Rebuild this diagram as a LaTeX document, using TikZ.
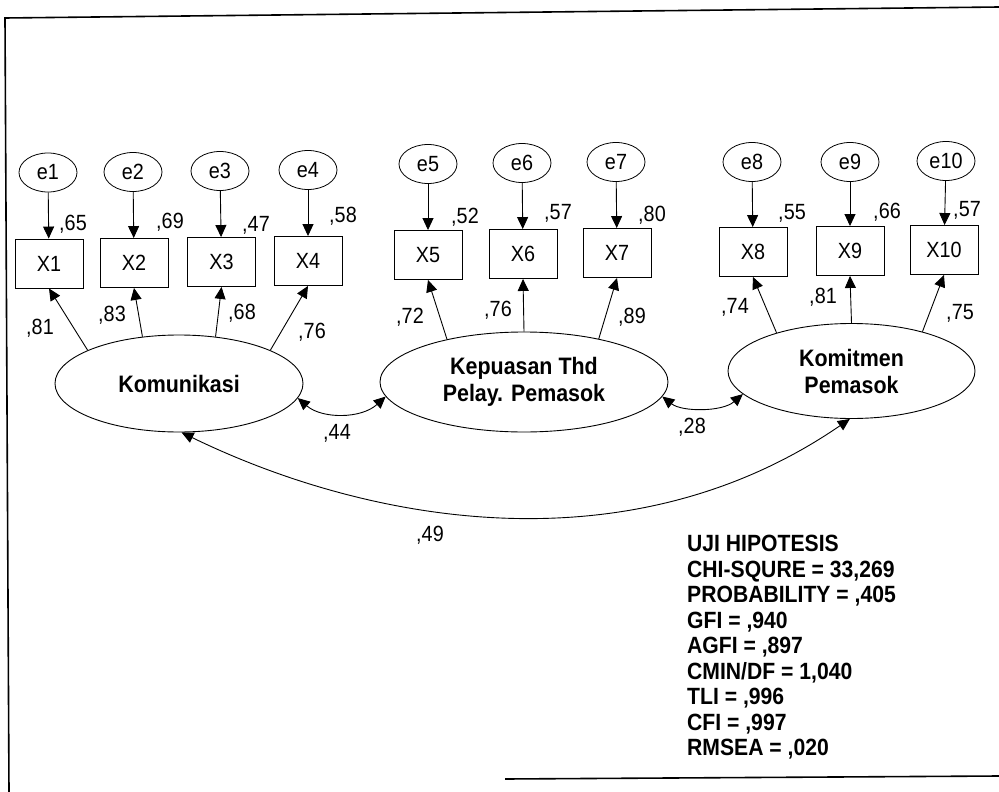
\documentclass[tikz,border=0pt]{standalone}
\usepackage{fontspec}
\setmainfont{Liberation Sans}[FakeStretch=0.9]
\usetikzlibrary{shapes.geometric,arrows.meta}
\begin{document}
\begin{tikzpicture}[x=1pt,y=-1pt,
  lbl/.style={font=\fontsize{22}{26}\selectfont, inner sep=0pt},
  obs/.style={draw, rectangle, minimum width=68pt, minimum height=49pt, inner sep=0pt, font=\fontsize{22}{26}\selectfont, line width=0.9pt},
  err/.style={draw, ellipse, minimum width=58pt, minimum height=39pt, inner sep=0pt, font=\fontsize{22}{26}\selectfont, line width=0.8pt},
  lat/.style={draw, ellipse, inner sep=0pt, align=center, font=\bfseries\fontsize{23.8}{27}\selectfont, line width=0.9pt},
  arr/.style={-{Triangle[length=12pt,width=11pt]}, line width=0.9pt},
  dbl/.style={{Triangle[length=12pt,width=11pt]}-{Triangle[length=12pt,width=11pt]}, line width=0.9pt},
  frame/.style={line width=1.6pt}
]
\useasboundingbox (0,0) rectangle (999,792);
% frame
\coordinate (ftr) at (999,7);
\coordinate (ftl) at (5,18);
\coordinate (fbl) at (9,792);
\coordinate (fb1) at (505,779);
\coordinate (fb2) at (999,776);
\draw[frame] (ftr) -- (ftl) -- (fbl);
\draw[frame] (fb1) -- (fb2);

% latent variables
\node[lat, minimum width=248pt, minimum height=97pt] (kom) at (179,383.5) {Komunikasi};
\node[lat, minimum width=288pt, minimum height=100pt] (kep) at (524,382) {Kepuasan Thd\\Pelay. Pemasok};
\node[lat, minimum width=247pt, minimum height=95pt] (komit) at (851.5,371) {Komitmen\\Pemasok};

% observed variables
\node[obs] (x1) at (49,263.5) {X1};
\node[obs] (x2) at (134,263) {X2};
\node[obs] (x3) at (221.5,262) {X3};
\node[obs] (x4) at (308,261) {X4};
\node[obs] (x5) at (428,255) {X5};
\node[obs] (x6) at (523,254) {X6};
\node[obs] (x7) at (617,253) {X7};
\node[obs] (x8) at (753,252) {X8};
\node[obs] (x9) at (850,251) {X9};
\node[obs] (x10) at (944,250) {X10};

% errors
\node[err] (e1) at (48,172.5) {e1};
\node[err] (e2) at (133,172) {e2};
\node[err] (e3) at (220,171) {e3};
\node[err] (e4) at (308,170) {e4};
\node[err] (e5) at (428,164) {e5};
\node[err] (e6) at (522,163) {e6};
\node[err] (e7) at (616,162) {e7};
\node[err] (e8) at (752,162) {e8};
\node[err] (e9) at (850,162) {e9};
\node[err] (e10) at (946,161) {e10};

% error arrows
\foreach \i in {1,...,10} { \draw[arr] (e\i) -- (x\i); }

% loadings
\draw[arr] (kom.160) -- (x1.south);
\draw[arr] (kom.128) -- (x2.south);
\draw[arr] (kom.52) -- (x3.south);
\draw[arr] (kom.20) -- (x4.south);
\draw[arr] (kep.151) -- (x5.south);
\draw[arr] (kep.90) -- (x6.south);
\draw[arr] (kep.30) -- (x7.south);
\draw[arr] (komit.153) -- (x8.south);
\draw[arr] (komit.90) -- (x9.south);
\draw[arr] (komit.29) -- (x10.south);

% correlations
\draw[dbl] (kom.-7) .. controls (322,419) and (361,419) .. (kep.186);
\draw[dbl] (kep.-6) .. controls (682,412) and (722,412) .. (komit.192);
\draw[dbl] (kom.-87) .. controls (370,524) and (630,570) .. (komit.-92);

% variance labels
\node[lbl] (v1) at (73,224) {,65};
\node[lbl] (v2) at (170,222) {,69};
\node[lbl] (v3) at (256,225) {,47};
\node[lbl] (v4) at (343,216) {,58};
\node[lbl] (v5) at (465,217) {,52};
\node[lbl] (v6) at (558,213) {,57};
\node[lbl] (v7) at (652,215) {,80};
\node[lbl] (v8) at (792,213) {,55};
\node[lbl] (v9) at (887,212) {,66};
\node[lbl] (v10) at (967,210) {,57};

% loading labels
\node[lbl] (l1) at (40,328) {,81};
\node[lbl] (l2) at (112,315) {,83};
\node[lbl] (l3) at (242,313) {,68};
\node[lbl] (l4) at (312,332) {,76};
\node[lbl] (l5) at (410,317) {,72};
\node[lbl] (l6) at (498,310) {,76};
\node[lbl] (l7) at (632,317) {,89};
\node[lbl] (l8) at (735,307) {,74};
\node[lbl] (l9) at (823,297) {,81};
\node[lbl] (l10) at (960,313) {,75};

% correlation labels
\node[lbl] (c1) at (337,433) {,44};
\node[lbl] (c2) at (692,427) {,28};
\node[lbl] (c3) at (430,535) {,49};

% fit statistics
\node[anchor=north west, inner sep=0pt, align=left, font=\bfseries\fontsize{23.5}{25.5}\selectfont] (stats) at (687,535)
{UJI HIPOTESIS\\CHI-SQURE = 33,269\\PROBABILITY = ,405\\GFI = ,940\\AGFI = ,897\\CMIN/DF = 1,040\\TLI = ,996\\CFI = ,997\\RMSEA = ,020};
\end{tikzpicture}
\end{document}
